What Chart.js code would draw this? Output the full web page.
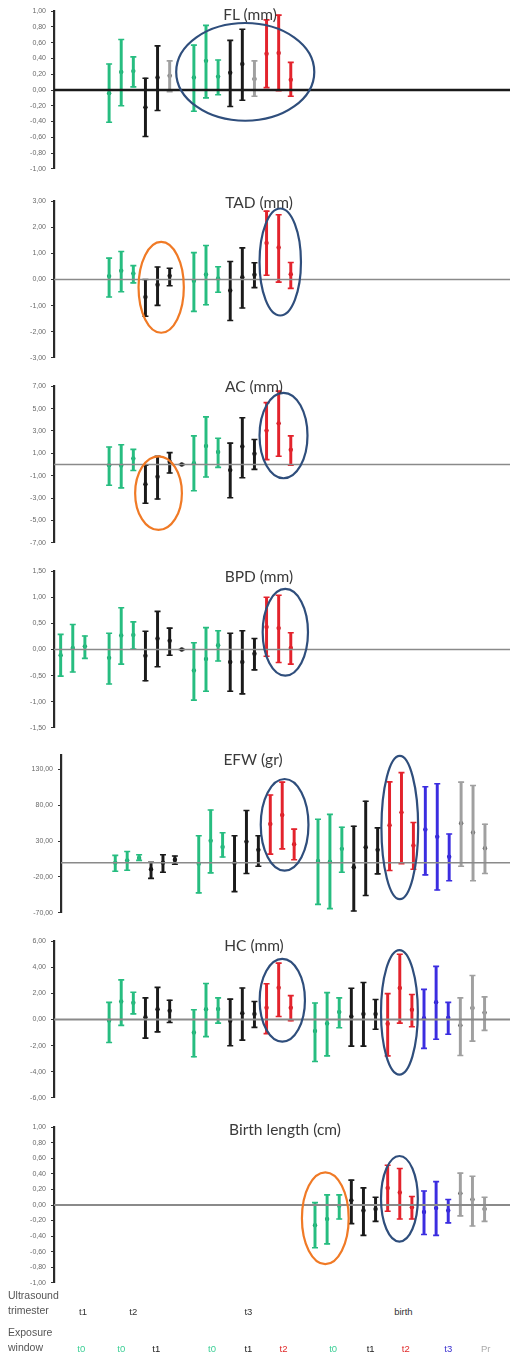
<!DOCTYPE html>
<html>
<head>
<meta charset="utf-8">
<script src="https://cdn.jsdelivr.net/npm/chart.js@4.4.0/dist/chart.umd.min.js"></script>
<style>
  body { margin: 0; background: #fff; }
  #wrap { position: relative; width: 510px; height: 1355px; overflow: hidden; font-family: Lato, "Liberation Sans", sans-serif; }
  #wrap canvas { position: absolute; left: 0; }
  .title { position: absolute; transform: translate(-50%, -50%); font-size: 15.5px; color: #3a3a3a; white-space: nowrap; z-index: 2; }
  .lbl { position: absolute; font-size: 10.5px; line-height: 13px; color: #555; white-space: nowrap; font-family: "Liberation Sans", sans-serif; }
  .tick { position: absolute; transform: translate(-50%, -50%); font-size: 9.5px; white-space: nowrap; font-family: "Liberation Sans", sans-serif; }
</style>
</head>
<body>
<div id="wrap"></div>
<script>
// slot positions along the shared x axis
const slotsT2T3 = [0, 1, 2, 3, 4, 5, 7, 8, 9, 10, 11, 12, 13, 14, 15];
const colsT2T3 = ['g', 'g', 'g', 'k', 'k', 'k', 'g', 'g', 'g', 'k', 'k', 'k', 'r', 'r', 'r'];
const slotsT1 = [-4, -3, -2];
const colsT1 = ['g', 'g', 'g'];
const slotsBirth = [17, 18, 19, 20, 21, 22, 23, 24, 25, 26, 27, 28, 29, 30, 31];
const colsBirth = ['g', 'g', 'g', 'k', 'k', 'k', 'r', 'r', 'r', 'b', 'b', 'b', 'e', 'e', 'e'];

// FL (mm)
const flX = slotsT2T3;
const flCol = ['g', 'g', 'g', 'k', 'k', 'e', 'g', 'g', 'g', 'k', 'k', 'e', 'r', 'r', 'r'];
const flMean = [-0.04, 0.23, 0.24, -0.22, 0.16, 0.18, 0.16, 0.37, 0.17, 0.22, 0.33, 0.14, 0.46, 0.47, 0.13];
const flLow = [-0.41, -0.20, 0.04, -0.59, -0.26, -0.02, -0.27, -0.10, -0.06, -0.21, -0.13, -0.08, 0.03, -0.01, -0.08];
const flHigh = [0.33, 0.64, 0.42, 0.15, 0.56, 0.37, 0.57, 0.82, 0.38, 0.63, 0.77, 0.37, 0.89, 0.95, 0.35];

// TAD (mm)
const tadX = slotsT2T3;
const tadCol = colsT2T3;
const tadMean = [0.13, 0.34, 0.23, -0.67, -0.20, 0.14, -0.05, 0.19, 0.04, -0.42, 0.09, 0.18, 1.40, 1.23, 0.20];
const tadLow = [-0.67, -0.47, -0.13, -1.41, -0.99, -0.24, -1.22, -0.97, -0.49, -1.57, -1.09, -0.31, 0.16, -0.10, -0.34];
const tadHigh = [0.82, 1.07, 0.53, 0.00, 0.48, 0.43, 1.03, 1.30, 0.49, 0.69, 1.21, 0.64, 2.62, 2.48, 0.65];

// AC (mm)
const acX = [0, 1, 2, 3, 4, 5, 6, 7, 8, 9, 10, 11, 12, 13, 14, 15];
const acCol = ['g', 'g', 'g', 'k', 'k', 'k', 'k', 'g', 'g', 'g', 'k', 'k', 'k', 'r', 'r', 'r'];
const acMean = [-0.06, -0.09, 0.53, -1.76, -1.09, 0.24, 0.00, 0.12, 1.65, 1.12, -0.50, 1.62, 0.97, 3.03, 3.68, 1.32];
const acLow = [-1.85, -2.09, -0.53, -3.47, -3.09, -0.76, 0.00, -2.35, -1.12, -0.26, -2.97, -1.18, -0.44, 0.44, 0.74, -0.06];
const acHigh = [1.56, 1.76, 1.35, -0.06, 0.74, 1.06, 0.00, 2.56, 4.26, 2.35, 1.91, 4.18, 2.24, 5.53, 6.56, 2.56];

// BPD (mm)
const bpdX = slotsT1.concat([0, 1, 2, 3, 4, 5, 6, 7, 8, 9, 10, 11, 12, 13, 14, 15]);
const bpdCol = colsT1.concat(['g', 'g', 'g', 'k', 'k', 'k', 'k', 'g', 'g', 'g', 'k', 'k', 'k', 'r', 'r', 'r']);
const bpdMean = [-0.11, 0.03, 0.06, -0.16, 0.27, 0.28, -0.12, 0.21, 0.17, 0.00, -0.40, -0.18, 0.08, -0.24, -0.24, -0.08, 0.43, 0.41, 0.03];
const bpdLow = [-0.51, -0.43, -0.17, -0.66, -0.28, 0.01, -0.60, -0.33, -0.11, 0.00, -0.97, -0.80, -0.22, -0.80, -0.85, -0.39, -0.13, -0.25, -0.28];
const bpdHigh = [0.29, 0.48, 0.26, 0.31, 0.80, 0.53, 0.35, 0.73, 0.41, 0.00, 0.13, 0.42, 0.36, 0.31, 0.36, 0.21, 1.00, 1.04, 0.32];

// EFW (gr)
const efwX = slotsT2T3.concat(slotsBirth);
const efwCol = colsT2T3.concat(colsBirth);
const efwMean = [0, 3.2, 6.4, -9.2, 0, 4.1, -1.4, 30.7, 22.0, -0.5, 29.4, 17.9, 54.1, 66.5, 25.7,
  2.3, 1.4, 19.3, -6.4, 21.6, 17.9, 52.3, 70.2, 23.9, 46.3, 36.2, 8.3, 55.0, 42.2, 20.2];
const efwLow = [-11.9, -10.6, 3.2, -22.0, -13.3, -2.3, -42.2, -14.2, 7.8, -40.4, -15.1, -5.0, 11.9, 19.3, 4.1,
  -58.3, -64.2, -13.3, -67.4, -45.9, -15.6, -11.0, -1.4, -9.2, -17.0, -38.1, -25.2, -5.0, -25.2, -15.1];
const efwHigh = [10.1, 15.6, 11.0, 0.5, 11.0, 9.2, 37.6, 73.4, 41.7, 37.6, 72.9, 37.6, 94.5, 112.4, 46.8,
  60.6, 67.4, 49.5, 50.9, 85.8, 48.6, 112.8, 125.7, 56.0, 106.0, 110.1, 39.9, 112.4, 107.8, 53.7];
const efwTicks = [-70, -20, 30, 80, 130];

// HC (mm)
const hcX = slotsT2T3.concat(slotsBirth);
const hcCol = colsT2T3.concat(colsBirth);
const hcMean = [-0.08, 1.38, 1.28, 0.18, 0.78, 0.68, -1.00, 0.78, 0.80, -0.10, 0.48, 0.43, 0.90, 2.44, 0.90,
  -0.88, -0.30, 0.58, 0.23, 0.43, 0.43, -0.33, 2.41, 0.75, 0.10, 1.33, 0.13, -0.45, 0.88, 0.53];
const hcLow = [-1.76, -0.45, 0.43, -1.43, -0.95, -0.23, -2.86, -1.31, -0.28, -2.01, -1.58, -0.60, -1.08, 0.23, -0.10,
  -3.22, -2.79, -0.63, -2.04, -2.04, -0.75, -2.79, -0.28, -0.55, -2.21, -1.51, -1.13, -2.76, -1.66, -0.83];
const hcHigh = [1.31, 3.04, 2.09, 1.66, 2.46, 1.48, 0.75, 2.76, 1.66, 1.56, 2.41, 1.38, 2.74, 4.32, 1.83,
  1.26, 2.06, 1.66, 2.39, 2.84, 1.53, 1.98, 5.00, 1.91, 2.31, 4.07, 1.31, 1.66, 3.37, 1.73];

// Birth length (cm)
const blX = slotsBirth;
const blCol = colsBirth;
const blMean = [-0.26, -0.18, -0.01, 0.06, -0.07, -0.05, 0.22, 0.16, -0.03, -0.09, -0.04, -0.07, 0.15, 0.07, -0.05];
const blLow = [-0.55, -0.50, -0.18, -0.24, -0.39, -0.21, -0.08, -0.18, -0.18, -0.38, -0.39, -0.23, -0.14, -0.27, -0.21];
const blHigh = [0.03, 0.13, 0.13, 0.32, 0.22, 0.10, 0.51, 0.47, 0.11, 0.18, 0.30, 0.07, 0.41, 0.37, 0.10];

// highlighted groups: centre and half-axes in data units
const flRings = [{ c: 'blue', x: 11.24, y: 0.23, rx: 5.7, ry: 0.62 }];
const tadRings = [{ c: 'orange', x: 4.3, y: -0.30, rx: 1.87, ry: 1.74 }, { c: 'blue', x: 14.13, y: 0.67, rx: 1.71, ry: 2.05 }];
const acRings = [{ c: 'orange', x: 4.08, y: -2.56, rx: 1.93, ry: 3.29 }, { c: 'blue', x: 14.4, y: 2.59, rx: 1.98, ry: 3.82 }];
const bpdRings = [{ c: 'blue', x: 14.55, y: 0.33, rx: 1.87, ry: 0.83 }];
const efwRings = [{ c: 'blue', x: 14.2, y: 52.8, rx: 2.0, ry: 64 }, { c: 'blue', x: 23.86, y: 49, rx: 1.54, ry: 100 }];
const hcRings = [{ c: 'blue', x: 14.3, y: 1.48, rx: 1.87, ry: 3.17 }, { c: 'blue', x: 23.97, y: 0.55, rx: 1.52, ry: 4.77 }];
const blRings = [{ c: 'orange', x: 17.85, y: -0.17, rx: 1.93, ry: 0.59 }, { c: 'blue', x: 23.97, y: 0.08, rx: 1.52, ry: 0.55 }];

// bottom labels
const trimesterLabels = ['t1', 't2', 't3', 'birth'];
const trimesterSlots = [-2.15, 2.0, 11.5, 24.3];
const exposureLabels = ['t0', 't0', 't1', 't0', 't1', 't2', 't0', 't1', 't2', 't3', 'Pr'];
const exposureSlots = [-2.3, 1.0, 3.9, 8.5, 11.5, 14.4, 18.5, 21.6, 24.5, 28.0, 31.1];
const exposureCols = ['g', 'g', 'k', 'g', 'k', 'r', 'g', 'k', 'r', 'b', 'e'];

const palette = { g: '#27bd80', k: '#1a1a1a', r: '#e3232c', b: '#3b2de0', e: '#a0a0a0' };
const dotPalette = { g: '#1a9e68', k: '#111', r: '#c81a22', b: '#2a1fc0', e: '#555' };
const labelPalette = { g: '#3ccf96', k: '#222', r: '#e02a2a', b: '#3a30d0', e: '#aaa' };
const ringColors = { blue: '#2f4e7c', orange: '#f07a26' };

const wrap = document.getElementById('wrap');

const ringPlugin = {
  id: 'rings',
  afterDatasetsDraw(chart, args, opts) {
    const ctx = chart.ctx, x = chart.scales.x, y = chart.scales.y;
    (opts.list || []).forEach(function (e) {
      const cx = x.getPixelForValue(e.x), cy = y.getPixelForValue(e.y);
      const rx = Math.abs(x.getPixelForValue(e.x + e.rx) - cx);
      const ry = Math.abs(y.getPixelForValue(e.y + e.ry) - cy);
      ctx.save();
      ctx.beginPath();
      ctx.ellipse(cx, cy, rx, ry, 0, 0, Math.PI * 2);
      ctx.strokeStyle = ringColors[e.c];
      ctx.lineWidth = 2.2;
      ctx.stroke();
      ctx.restore();
    });
  }
};

function fmt(v) {
  return Number(v).toFixed(2).replace('.', ',');
}

function panel(p) {
  const pad = 8;
  const canvas = document.createElement('canvas');
  canvas.width = 510;
  canvas.height = p.bottom - p.top + pad * 2;
  canvas.style.top = (p.top - pad) + 'px';
  wrap.appendChild(canvas);

  const t = document.createElement('div');
  t.className = 'title';
  t.textContent = p.title;
  t.style.left = p.tx + 'px';
  t.style.top = p.ty + 'px';
  wrap.appendChild(t);

  const bars = [], caps = [], capCols = [], means = [];
  p.xs.forEach(function (x, i) {
    bars.push({ x: x, y: [p.low[i], p.high[i]] });
    caps.push({ x: x, y: p.low[i] }, { x: x, y: p.high[i] });
    capCols.push(palette[p.cols[i]], palette[p.cols[i]]);
    means.push({ x: x, y: p.mean[i] });
  });

  const yScale = {
    min: p.min, max: p.max,
    afterFit: function (s) { s.width = p.axis; },
    ticks: {
      stepSize: p.step,
      padding: 5,
      color: '#6a6a6a',
      font: { size: 7, family: 'Liberation Sans' },
      callback: fmt
    },
    grid: { drawOnChartArea: false, tickLength: 3, color: '#333', lineWidth: 1 },
    border: { color: '#2a2a2a', width: 2.2 }
  };
  if (p.ticks) {
    yScale.afterBuildTicks = function (s) { s.ticks = p.ticks.map(function (v) { return { value: v }; }); };
  }

  return new Chart(canvas, {
    type: 'bar',
    data: {
      datasets: [
        {
          type: 'line',
          data: [{ x: -4.55, y: 0 }, { x: 33.1, y: 0 }],
          borderColor: p.zeroColor, borderWidth: p.zeroWidth, pointRadius: 0
        },
        {
          type: 'bar',
          data: bars,
          backgroundColor: p.cols.map(function (c) { return palette[c]; }),
          borderWidth: 0,
          barThickness: 2.3
        },
        {
          type: 'scatter',
          data: caps,
          pointStyle: 'line',
          pointRadius: 3,
          pointBorderWidth: 1.6,
          pointBorderColor: capCols
        },
        {
          type: 'scatter',
          data: means,
          pointStyle: 'circle',
          pointRadius: 2.2,
          pointBorderWidth: 0,
          pointBackgroundColor: p.cols.map(function (c) { return dotPalette[c]; })
        }
      ]
    },
    options: {
      responsive: false,
      animation: false,
      layout: { autoPadding: false, padding: { top: pad, bottom: pad, left: 0, right: 0 } },
      scales: {
        x: { type: 'linear', min: -4.55, max: 33.1, offset: false, display: false },
        y: yScale
      },
      plugins: {
        legend: { display: false },
        tooltip: { enabled: false },
        rings: { list: p.rings }
      }
    },
    plugins: [ringPlugin]
  });
}

panel({ title: 'FL (mm)', tx: 250, ty: 14, top: 10, bottom: 170, axis: 54, min: -1, max: 1, step: 0.2,
  zeroColor: '#1a1a1a', zeroWidth: 2.5, xs: flX, cols: flCol, mean: flMean, low: flLow, high: flHigh, rings: flRings });
panel({ title: 'TAD (mm)', tx: 259, ty: 202, top: 200, bottom: 359, axis: 54, min: -3, max: 3, step: 1,
  zeroColor: '#8a8a8a', zeroWidth: 1.5, xs: tadX, cols: tadCol, mean: tadMean, low: tadLow, high: tadHigh, rings: tadRings });
panel({ title: 'AC (mm)', tx: 254, ty: 386, top: 385, bottom: 544, axis: 54, min: -7, max: 7, step: 2,
  zeroColor: '#8a8a8a', zeroWidth: 1.5, xs: acX, cols: acCol, mean: acMean, low: acLow, high: acHigh, rings: acRings });
panel({ title: 'BPD (mm)', tx: 259, ty: 576, top: 570, bottom: 729, axis: 54, min: -1.5, max: 1.5, step: 0.5,
  zeroColor: '#8a8a8a', zeroWidth: 1.5, xs: bpdX, cols: bpdCol, mean: bpdMean, low: bpdLow, high: bpdHigh, rings: bpdRings });
panel({ title: 'EFW (gr)', tx: 253, ty: 759, top: 754, bottom: 914, axis: 61, min: -70, max: 150, step: 50, ticks: efwTicks,
  zeroColor: '#8a8a8a', zeroWidth: 1.5, xs: efwX, cols: efwCol, mean: efwMean, low: efwLow, high: efwHigh, rings: efwRings });
panel({ title: 'HC (mm)', tx: 254, ty: 945, top: 940, bottom: 1099, axis: 54, min: -6, max: 6, step: 2,
  zeroColor: '#8a8a8a', zeroWidth: 1.8, xs: hcX, cols: hcCol, mean: hcMean, low: hcLow, high: hcHigh, rings: hcRings });
const blChart = panel({ title: 'Birth length (cm)', tx: 285, ty: 1129, top: 1126, bottom: 1284, axis: 54, min: -1, max: 1, step: 0.2,
  zeroColor: '#8a8a8a', zeroWidth: 1.8, xs: blX, cols: blCol, mean: blMean, low: blLow, high: blHigh, rings: blRings });

// row headings and labels under the last panel, placed with its x scale
function text(cls, s, left, top, color) {
  const d = document.createElement('div');
  d.className = cls;
  d.textContent = s;
  d.style.left = left + 'px';
  d.style.top = top + 'px';
  if (color) d.style.color = color;
  wrap.appendChild(d);
}
text('lbl', 'Ultrasound', 8, 1289);
text('lbl', 'trimester', 8, 1304);
text('lbl', 'Exposure', 8, 1326);
text('lbl', 'window', 8, 1341);

const xs = blChart.scales.x;
trimesterLabels.forEach(function (s, i) {
  text('tick', s, xs.getPixelForValue(trimesterSlots[i]), 1311, '#333');
});
exposureLabels.forEach(function (s, i) {
  text('tick', s, xs.getPixelForValue(exposureSlots[i]), 1348, labelPalette[exposureCols[i]]);
});
</script>
</body>
</html>
